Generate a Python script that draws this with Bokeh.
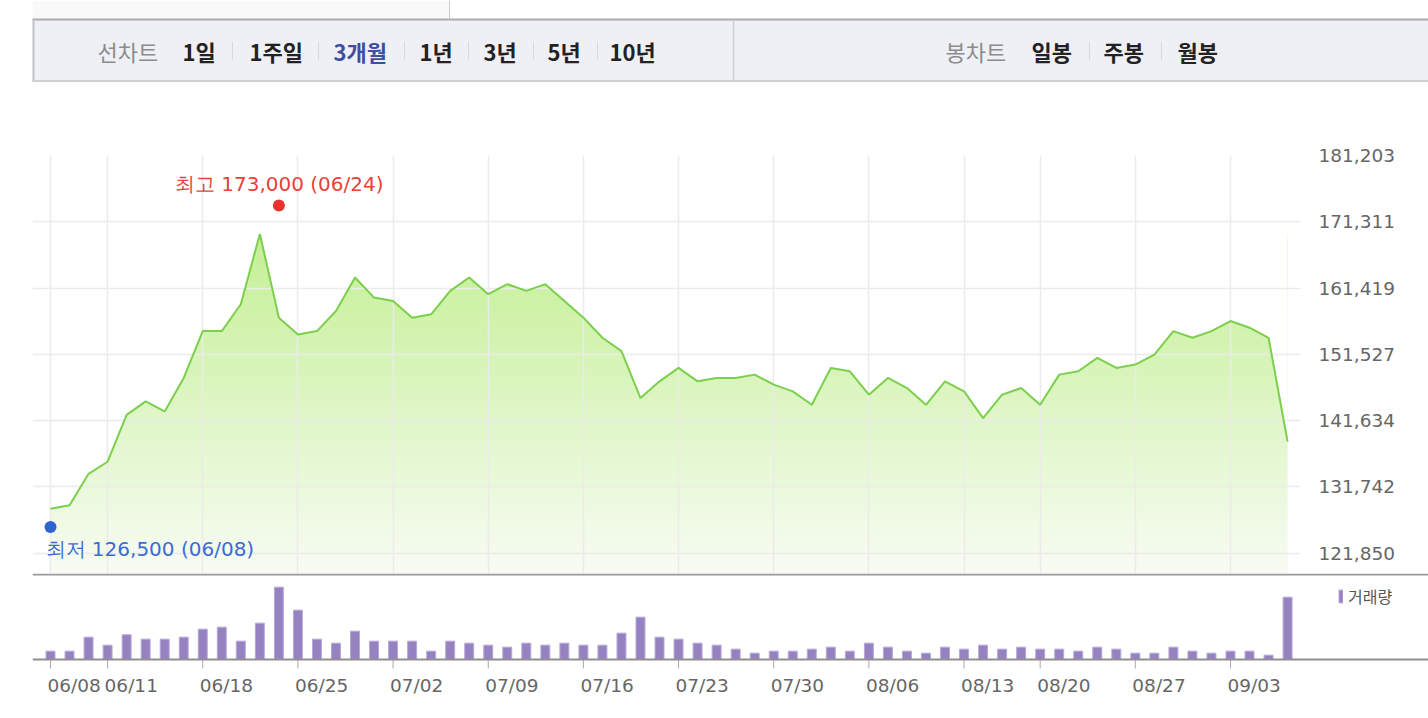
import numpy as np
from bokeh.plotting import figure
from bokeh.layouts import column
from bokeh.models import (Range1d, FixedTicker, NumeralTickFormatter, Span, Grid,
                          Legend, LegendItem)
from bokeh.core.properties import value
from bokeh.embed import file_html
from bokeh.resources import INLINE

# ---------------- data ----------------
dates = ["06/08", "06/09", "06/10", "06/11", "06/12", "06/15", "06/16", "06/17", "06/18", "06/19",
         "06/22", "06/23", "06/24", "06/25", "06/26", "06/29", "06/30",
         "07/01", "07/02", "07/03", "07/06", "07/07", "07/08", "07/09", "07/10", "07/13", "07/14",
         "07/15", "07/16", "07/17", "07/20", "07/21", "07/22", "07/23", "07/24", "07/27", "07/28",
         "07/29", "07/30", "07/31",
         "08/03", "08/04", "08/05", "08/06", "08/07", "08/10", "08/11", "08/12", "08/13", "08/17",
         "08/18", "08/19", "08/20", "08/21", "08/24", "08/25", "08/26", "08/27", "08/28", "08/31",
         "09/01", "09/02", "09/03", "09/04", "09/07", "09/08"]

close = [128500, 129000, 133700, 135500, 142500, 144500, 143000, 148000, 155000, 155000,
         159000, 169500, 157000, 154500, 155000, 158000, 163000,
         160000, 159500, 157000, 157500, 161000, 163000, 160500, 162000, 161000, 162000,
         159500, 157000, 154000, 152000, 145000, 147500, 149500, 147500, 148000, 148000,
         148500, 147000, 146000,
         144000, 149500, 149000, 145500, 148000, 146500, 144000, 147500, 146000, 142000,
         145500, 146500, 144000, 148500, 149000, 151000, 149500, 150000, 151500, 155000,
         154000, 155000, 156500, 155500, 154000, 138500]

volume_k = [25, 25, 67, 43, 74, 61, 61, 67, 91, 97,
            55, 109, 217, 148, 61, 49, 85,
            55, 55, 55, 25, 55, 49, 43, 37, 49, 43,
            49, 43, 43, 79, 127, 67, 61, 49, 43, 31,
            19, 25, 25,
            31, 37, 25, 49, 37, 25, 19, 37, 31, 43,
            31, 37, 31, 31, 25, 37, 31, 19, 19, 37,
            25, 19, 25, 25, 13, 187]

tick_labels = ["06/08", "06/11", "06/18", "06/25", "07/02", "07/09", "07/16", "07/23",
               "07/30", "08/06", "08/13", "08/20", "08/27", "09/03"]
y_ticks = [121850, 131742, 141634, 151527, 161419, 171311, 181203]

high_value, high_date = 173000, "06/24"
low_value, low_date = 126500, "06/08"

left_tabs = ["선차트", "1일", "1주일", "3개월", "1년", "3년", "5년", "10년"]
right_tabs = ["봉차트", "일봉", "주봉", "월봉"]
volume_label = "거래량"

# ---------------- layout constants (page px) ----------------
W = 1428
FRAME_L = 32
DAY0_PX = 50.0
DAY_STEP = (1230.0 - 50.0) / 62.0
PRICE_FRAME_R = 1300
VOL_FRAME_R = 1428
Y_TOP, Y_TOP_PX, Y_REF, Y_REF_PX = 181203, 155.0, 121850, 552.7
UPP = (Y_TOP - Y_REF) / (Y_REF_PX - Y_TOP_PX)  # price units per px

idx = np.arange(len(dates))
tick_idx = [dates.index(d) for d in tick_labels]

x_start = (FRAME_L - DAY0_PX) / DAY_STEP
price_x_end = (PRICE_FRAME_R - DAY0_PX) / DAY_STEP
vol_x_end = (VOL_FRAME_R - DAY0_PX) / DAY_STEP

LABEL_FONT = value("DejaVu Sans")
KFONT = value("Noto Sans CJK KR")

# ---------------- header (tab bar) ----------------
H_H = 100
h = figure(width=W, height=H_H, x_range=Range1d(0, W), y_range=Range1d(H_H, 0),
           x_axis_type=None, y_axis_type=None, toolbar_location=None,
           output_backend="svg", min_border=0, outline_line_color=None, frame_align=False)
h.grid.visible = False
h.quad(left=[32], right=[449], top=[0], bottom=[18.5], fill_color="#f9f9f9", line_color=None)
h.segment(x0=[449], y0=[0], x1=[449], y1=[18], line_color="#cccccc", line_width=1)
h.quad(left=[32], right=[W], top=[19], bottom=[81], fill_color="#eff0f5", line_color=None)
h.segment(x0=[32], y0=[19], x1=[W], y1=[19], line_color="#ababb0", line_width=2)
h.segment(x0=[33], y0=[19], x1=[33], y1=[81], line_color="#c4c4c8", line_width=2)
h.segment(x0=[32], y0=[80.5], x1=[W], y1=[80.5], line_color="#cfcfd3", line_width=2)
h.segment(x0=[733], y0=[20], x1=[733], y1=[80], line_color="#d0d0d4", line_width=1.5)
sep_x = [232, 318, 404, 468, 533, 597, 1089, 1161]
h.segment(x0=sep_x, y0=[41] * len(sep_x), x1=sep_x, y1=[59] * len(sep_x),
          line_color="#d8d8dc", line_width=1)
left_x = [97, 182, 249, 333, 419, 483, 547, 609]
left_col = ["#8c8c8c", "#222222", "#222222", "#3d4fa0", "#222222", "#222222", "#222222", "#222222"]
for t, x, c in zip(left_tabs, left_x, left_col):
    h.text(x=[x], y=[50], text=[t], text_font=KFONT, text_font_size="22px",
           text_font_style="normal" if t == "선차트" else "bold",
           text_color=c, text_align="left", text_baseline="middle")
right_x = [945, 1031, 1103, 1177]
for t, x in zip(right_tabs, right_x):
    h.text(x=[x], y=[50], text=[t], text_font=KFONT, text_font_size="22px",
           text_font_style="normal" if t == "봉차트" else "bold",
           text_color="#8c8c8c" if t == "봉차트" else "#222222",
           text_align="left", text_baseline="middle")

# ---------------- price chart ----------------
P_H = 473
P_TOP_BORDER = 55
frame_h = P_H - P_TOP_BORDER
y_bottom = Y_TOP - frame_h * UPP

p = figure(width=W, height=P_H, x_range=Range1d(x_start, price_x_end),
           y_range=Range1d(y_bottom, Y_TOP), x_axis_type=None, y_axis_location="right",
           toolbar_location=None, output_backend="svg",
           min_border_left=FRAME_L, min_border_right=W - PRICE_FRAME_R,
           min_border_top=P_TOP_BORDER, min_border_bottom=0, outline_line_color=None,
           frame_align=False)
p.yaxis.ticker = FixedTicker(ticks=y_ticks)
p.yaxis.formatter = NumeralTickFormatter(format="0,0")
p.yaxis.axis_line_color = None
p.yaxis.major_tick_line_color = None
p.yaxis.minor_tick_line_color = None
p.yaxis.major_label_standoff = 12
p.yaxis.major_label_text_font = "DejaVu Sans"
p.yaxis.major_label_text_font_size = "18.5px"
p.yaxis.major_label_text_color = "#666666"
p.ygrid.grid_line_color = "#ebebeb"
p.ygrid.grid_line_width = 1.5
p.add_layout(Grid(dimension=0, ticker=FixedTicker(ticks=tick_idx),
                  grid_line_color="#ebebeb", grid_line_width=1.5))

# gradient fill under the line
n = 256
grad_top = max(close)
c0 = np.array([248, 252, 244], dtype=float)
c1 = np.array([196, 240, 148], dtype=float)
tt = np.linspace(0, 1, n)[:, None]
cols = (c0 + (c1 - c0) * tt).astype(np.uint8)
img = np.empty((n, 1), dtype=np.uint32)
view = img.view(dtype=np.uint8).reshape((n, 1, 4))
view[:, 0, 0:3] = cols
view[:, 0, 3] = 255
p.image_rgba(image=[img], x=idx[0], y=y_bottom, dw=idx[-1] - idx[0], dh=grad_top - y_bottom,
             level="image")
p.varea(x=idx, y1=close, y2=[Y_TOP] * len(idx), fill_color="white", level="image")
p.line(idx, close, line_color="#7ccf4c", line_width=2)

hi_i = dates.index(high_date)
lo_i = dates.index(low_date)
MARK_OFF = 5 * UPP
p.scatter([hi_i], [high_value + MARK_OFF], size=12, fill_color="#e8332b", line_color=None)
p.scatter([lo_i], [low_value - MARK_OFF], size=12, fill_color="#2e63d2", line_color=None)
p.text(x=[hi_i], y=[high_value], text=[f"최고 {high_value:,} ({high_date})"],
       x_offset=-104, y_offset=-26, text_font=LABEL_FONT, text_font_size="20px",
       text_color="#e8413a", text_align="left", text_baseline="middle")
p.text(x=[lo_i], y=[low_value], text=[f"최저 {low_value:,} ({low_date})"],
       x_offset=-5, y_offset=26.5, text_font=LABEL_FONT, text_font_size="20px",
       text_color="#3d6bd6", text_align="left", text_baseline="middle")

# ---------------- volume chart ----------------
V_H = 143
BASE_PX = 86  # px from frame top to baseline
VPP = 3.0     # volume units per px
v = figure(width=W, height=V_H, x_range=Range1d(x_start, vol_x_end),
           y_range=Range1d(-(V_H - BASE_PX) * VPP, BASE_PX * VPP),
           x_axis_type=None, y_axis_type=None, toolbar_location=None, output_backend="svg",
           min_border=0, min_border_left=FRAME_L, outline_line_color=None, frame_align=False)
v.grid.visible = False
vb = v.vbar(x=idx, top=volume_k, width=0.47, fill_color="#9682c1",
            line_color="#b5a8d8", line_width=1)
v.add_layout(Span(location=BASE_PX * VPP - 1 * VPP, dimension="width",
                  line_color="#999999", line_width=2))
v.add_layout(Span(location=0, dimension="width", line_color="#8f8f8f", line_width=2))
v.segment(x0=tick_idx, y0=[0] * len(tick_idx), x1=tick_idx, y1=[-9 * VPP] * len(tick_idx),
          line_color="#aaaaaa", line_width=1)
v.text(x=tick_idx, y=[-26 * VPP] * len(tick_idx), text=tick_labels, x_offset=-3,
       text_font=LABEL_FONT, text_font_size="18.5px", text_color="#666666",
       text_align="left", text_baseline="middle")
legend = Legend(items=[LegendItem(label=volume_label, renderers=[vb])],
                location=(1338 - FRAME_L, V_H - (608 - 573)), glyph_width=5, glyph_height=16,
                label_text_font="Noto Sans CJK KR", label_text_font_size="16px",
                label_text_color="#555555", border_line_color=None,
                background_fill_alpha=0, padding=0, margin=0, label_standoff=5, spacing=0)
v.add_layout(legend)

layout = column(h, p, v, spacing=0)
open("out.html", "w").write(file_html(layout, INLINE))
